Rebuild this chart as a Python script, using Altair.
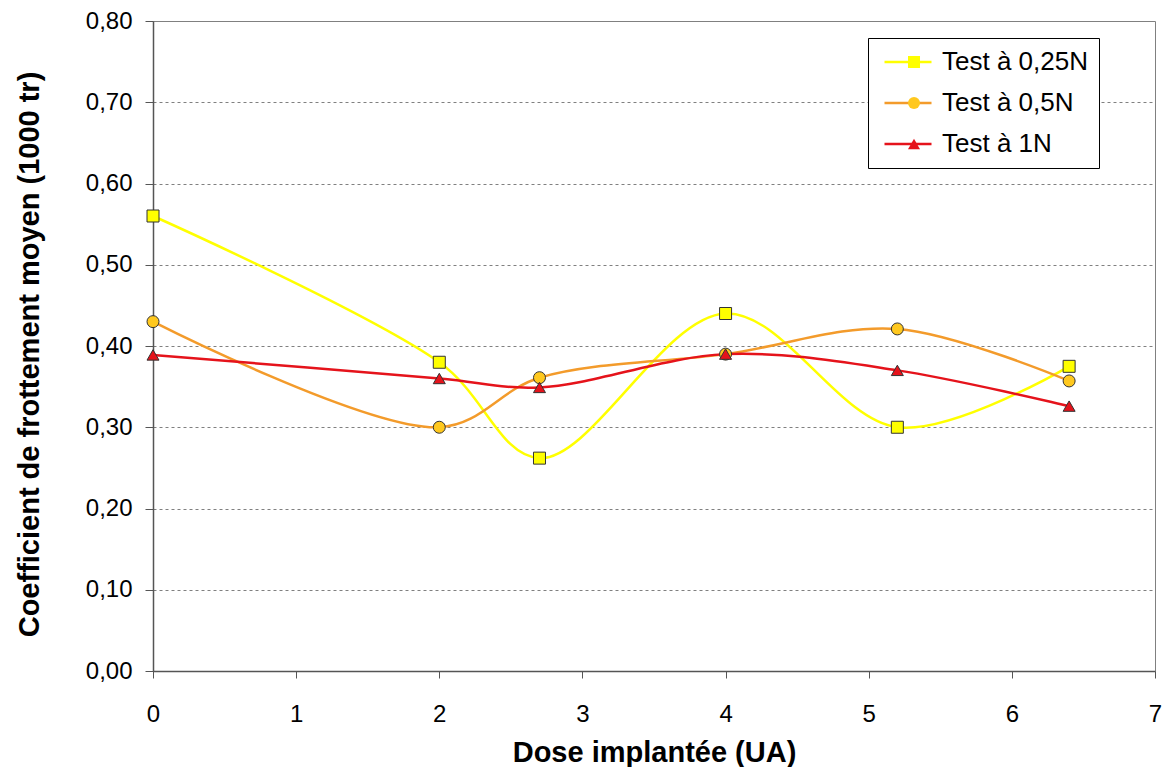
import altair as alt
import pandas as pd

# ---- data ----
doses = [0, 2, 2.7, 4, 5.2, 6.4]
series = ["Test à 0,25N", "Test à 0,5N", "Test à 1N"]
vals_025 = [0.56, 0.38, 0.262, 0.44, 0.30, 0.375]
vals_05 = [0.43, 0.30, 0.361, 0.39, 0.421, 0.357]
vals_1 = [0.389, 0.36, 0.349, 0.39, 0.37, 0.326]
x_ticks = [0, 1, 2, 3, 4, 5, 6, 7]
y_ticks = [0.0, 0.1, 0.2, 0.3, 0.4, 0.5, 0.6, 0.7, 0.8]

line_colors = ["#FFFF00", "#F39B2B", "#E5131B"]
fill_colors = ["#FFFF00", "#FFC81E", "#E5131B"]
shapes = ["square", "circle", "triangle-up"]

rows = []
for name, vals in zip(series, [vals_025, vals_05, vals_1]):
    for d, v in zip(doses, vals):
        rows.append({"dose": d, "coef": v, "serie": name})
df = pd.DataFrame(rows)

FONT = "Liberation Sans"

x_enc = alt.X(
    "dose:Q",
    scale=alt.Scale(domain=[0, 7], nice=False, zero=False),
    axis=alt.Axis(
        values=x_ticks, grid=False, title="Dose implantée (UA)",
        labelExpr="format(datum.value, 'd')",
        labelFontSize=24, labelPadding=24, tickSize=7,
        titleFontSize=29, titleFontWeight="bold", titleY=90,
        titleBaseline="alphabetic", labelFlush=False,
    ),
)
y_enc = alt.Y(
    "coef:Q",
    scale=alt.Scale(domain=[0, 0.8], nice=False),
    axis=alt.Axis(
        values=y_ticks, grid=True, gridColor="#808080", gridDash=[3, 3],
        gridWidth=1, title="Coefficient de frottement moyen (1000 tr)",
        labelFontSize=24, labelPadding=13, tickSize=8,
        labelExpr="replace(format(datum.value, '.2f'), '.', ',')",
        titleFontSize=29, titleFontWeight="bold", titleX=-124, titleY=333,
        titleBaseline="middle", titleAngle=270, labelFlush=False,
    ),
)

lines = alt.Chart(df).mark_line(
    interpolate="catmull-rom", strokeWidth=2.5
).encode(
    x=x_enc,
    y=y_enc,
    stroke=alt.Stroke(
        "serie:N",
        scale=alt.Scale(domain=series, range=line_colors),
        legend=alt.Legend(
            title=None, orient="none", legendX=715, legendY=17,
            symbolType="stroke", symbolSize=2209, symbolStrokeWidth=2.5,
            symbolOffset=4, labelOffset=9, labelFontSize=26,
            labelFont=FONT, labelColor="#000000", rowPadding=15,
            clipHeight=26, padding=11, strokeColor="#000000",
            fillColor="#FFFFFF", labelLimit=400,
        ),
    ),
    detail="serie:N",
)

pt_legend = alt.Legend(
    title=None, orient="none", legendX=715, legendY=17,
    symbolSize=144, symbolStrokeWidth=1, symbolStrokeColor="#333333",
    symbolOffset=22, labelOffset=0, labelFontSize=26, labelFont=FONT,
    labelExpr="''", rowPadding=15, clipHeight=26, padding=11,
)

points = alt.Chart(df).mark_point(
    filled=True, size=144, stroke="#333333", strokeWidth=1, opacity=1
).encode(
    x="dose:Q",
    y="coef:Q",
    fill=alt.Fill("serie:N", scale=alt.Scale(range=fill_colors), legend=pt_legend),
    shape=alt.Shape("serie:N", scale=alt.Scale(range=shapes), legend=pt_legend),
)

chart = (
    alt.layer(lines, points)
    .properties(
        width=1002, height=650,
        autosize=alt.AutoSizeParams(type="none"),
        padding={"left": 145, "top": 13, "right": 7, "bottom": 96},
        background="#FFFFFF",
    )
    .configure_view(stroke="#808080", strokeWidth=1)
    .configure_axis(
        labelFont=FONT, titleFont=FONT, labelColor="#000000",
        titleColor="#000000", domainColor="#555555", tickColor="#555555",
        domainWidth=1.5, tickWidth=1,
    )
    .configure_legend(labelFont=FONT)
)

chart.save("out.html", embed_options={"renderer": "svg", "actions": False})
